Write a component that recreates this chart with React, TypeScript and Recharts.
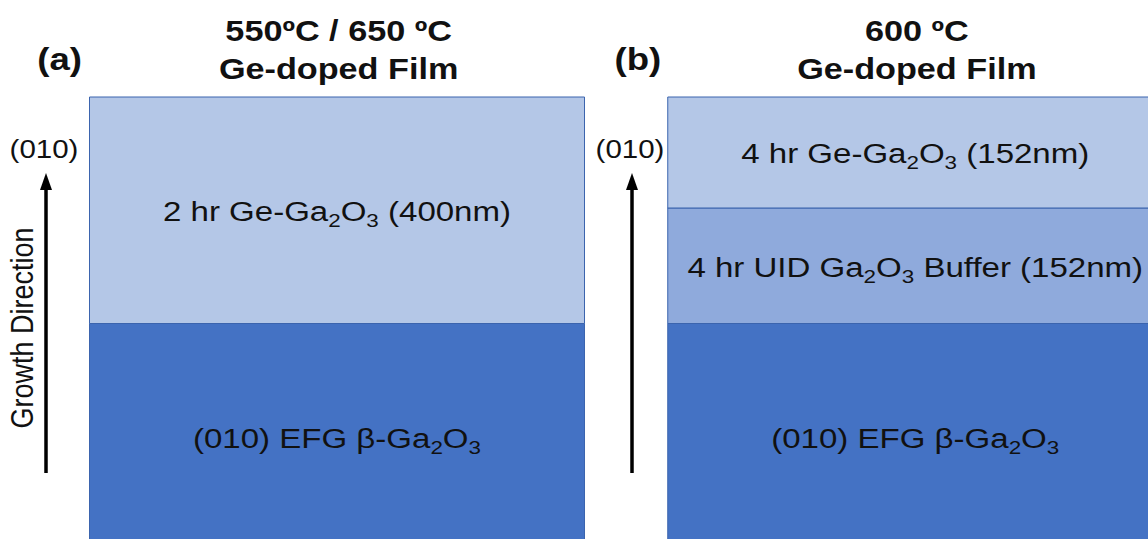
import { BarChart, Bar, XAxis, YAxis, LabelList } from "recharts";

// ── Layer stack data (relative display thickness, not to scale)
const PANELS = ["a", "b"];
const SUBSTRATE = [50, 50];
const BUFFER = [0, 25.5];
const FILM = [50, 24.5];

const SUBSTRATE_LABELS = ["(010) EFG β-Ga_2O_3", "(010) EFG β-Ga_2O_3"];
const BUFFER_LABELS = ["", "4 hr UID Ga_2O_3 Buffer (152nm)"];
const FILM_LABELS = ["2 hr Ge-Ga_2O_3 (400nm)", "4 hr Ge-Ga_2O_3 (152nm)"];

const TITLE_TOP = ["550ºC / 650 ºC", "600 ºC"];
const TITLE_BOTTOM = ["Ge-doped Film", "Ge-doped Film"];

const data = PANELS.map((p, i) => ({
  panel: p,
  substrate: SUBSTRATE[i],
  buffer: BUFFER[i],
  film: FILM[i],
  substrateLabel: SUBSTRATE_LABELS[i],
  bufferLabel: BUFFER_LABELS[i],
  filmLabel: FILM_LABELS[i],
}));

const FONT = "'Liberation Sans', Arial, sans-serif";
const LABEL_SIZE = 28;
const SUB_SIZE = 19;
const STRETCH = 1.18; // the source figure is a bit wider than tall

// split "Ga_2O_3" into normal / subscript pieces
function renderRich(text: string) {
  const parts: { t: string; sub: boolean }[] = [];
  let buf = "";
  for (let i = 0; i < text.length; i++) {
    if (text[i] === "_" && i + 1 < text.length) {
      if (buf) parts.push({ t: buf, sub: false });
      buf = "";
      parts.push({ t: text[i + 1], sub: true });
      i++;
    } else buf += text[i];
  }
  if (buf) parts.push({ t: buf, sub: false });
  let shift = 0;
  return parts.map((p, k) => {
    const target = p.sub ? 6 : 0;
    const dy = target - shift;
    shift = target;
    return (
      <tspan key={k} dy={dy} fontSize={p.sub ? SUB_SIZE : LABEL_SIZE}>
        {p.t}
      </tspan>
    );
  });
}

// text drawn at (x, y) baseline, horizontally stretched
function Wide({ x, y, size, bold, rotate, children }: any) {
  return (
    <text
      transform={`translate(${x} ${y}) scale(${STRETCH} 1)${rotate ? ` rotate(${rotate})` : ""}`}
      x={0}
      y={0}
      textAnchor="middle"
      fontFamily={FONT}
      fontSize={size}
      fontWeight={bold ? 700 : 400}
      fill="#111"
    >
      {children}
    </text>
  );
}

const LayerLabel = (props: any) => {
  const { x, y, width, height, value } = props;
  if (!value || !height) return null;
  return (
    <Wide x={x + width / 2} y={y + height / 2 + 11} size={LABEL_SIZE}>
      {renderRich(String(value))}
    </Wide>
  );
};

// ── Panel title as top axis tick
const TitleTick = (props: any) => {
  const { x, index } = props;
  return (
    <g>
      <Wide x={x + 2} y={41} size={29} bold>
        {TITLE_TOP[index]}
      </Wide>
      <Wide x={x + 2} y={79} size={29} bold>
        {TITLE_BOTTOM[index]}
      </Wide>
      <Wide x={x - 277} y={70} size={31} bold>
        ({PANELS[index]})
      </Wide>
    </g>
  );
};

function Arrow({ x }: { x: number }) {
  return (
    <g>
      <line x1={x} y1={473} x2={x} y2={186} stroke="#000" strokeWidth={3.5} />
      <polygon points={`${x},173 ${x - 6},190 ${x + 6},190`} fill="#000" />
    </g>
  );
}

export default function App() {
  return (
    <div
      style={{
        position: "fixed",
        top: 0,
        left: 0,
        width: 1148,
        height: 539,
        overflow: "hidden",
        background: "#fff",
      }}
    >
      <BarChart
        width={1204}
        height={550}
        data={data}
        margin={{ top: 17, right: 0, left: 47.5, bottom: 0 }}
        barSize={495}
      >
        <XAxis
          dataKey="panel"
          orientation="top"
          height={80}
          axisLine={false}
          tickLine={false}
          tick={<TitleTick />}
          interval={0}
        />
        <YAxis hide domain={[0, 100]} />
        <Bar dataKey="substrate" stackId="s" fill="#4472C4" stroke="#3B64AE" strokeWidth={1} isAnimationActive={false}>
          <LabelList dataKey="substrateLabel" content={<LayerLabel />} />
        </Bar>
        <Bar dataKey="buffer" stackId="s" fill="#8FAADC" stroke="#3B64AE" strokeWidth={1} isAnimationActive={false}>
          <LabelList dataKey="bufferLabel" content={<LayerLabel />} />
        </Bar>
        <Bar dataKey="film" stackId="s" fill="#B4C7E7" stroke="#3B64AE" strokeWidth={1} isAnimationActive={false}>
          <LabelList dataKey="filmLabel" content={<LayerLabel />} />
        </Bar>
      </BarChart>
      <svg
        width={1148}
        height={539}
        style={{ position: "absolute", top: 0, left: 0, pointerEvents: "none" }}
      >
        <Wide x={44} y={158} size={25}>(010)</Wide>
        <Wide x={630} y={158} size={25}>(010)</Wide>
        <Wide x={33} y={328} size={27} rotate={-90}>
          Growth Direction
        </Wide>
        <Arrow x={46} />
        <Arrow x={632} />
      </svg>
    </div>
  );
}
